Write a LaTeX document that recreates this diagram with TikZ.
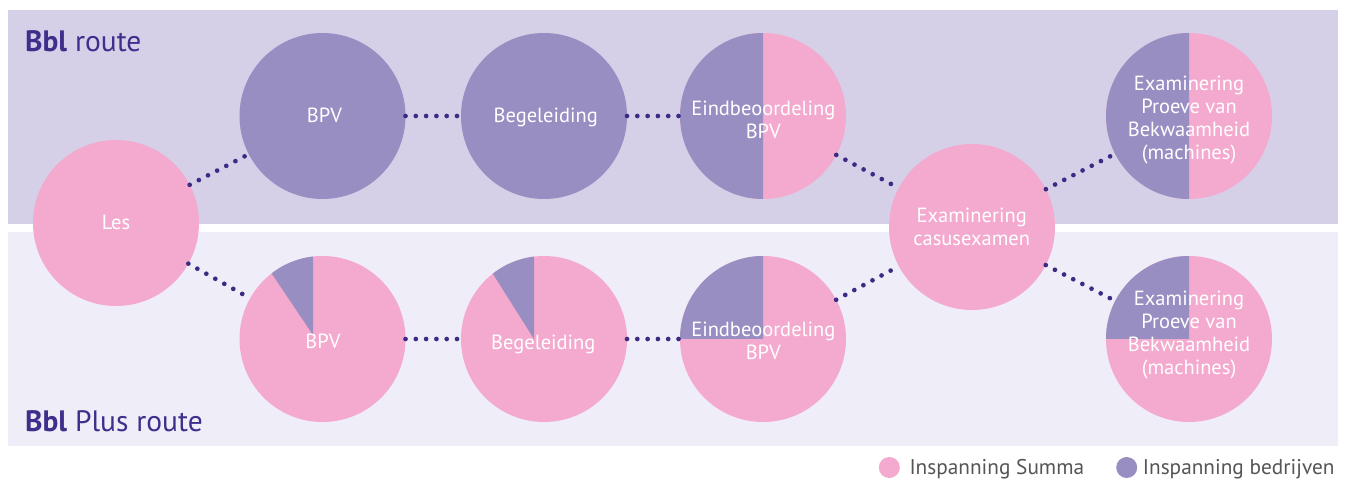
\documentclass[tikz,border=0pt]{standalone}
\usepackage{fontspec}
\setmainfont{PT Sans}
\definecolor{topband}{HTML}{D5D0E8}
\definecolor{botband}{HTML}{EFEDF7}
\definecolor{purp}{HTML}{998EC2}
\definecolor{pinkc}{HTML}{F4AACE}
\definecolor{dotc}{HTML}{3C2B85}
\definecolor{titlec}{HTML}{3F2E8B}
\definecolor{legc}{HTML}{555555}
\begin{document}
\begin{tikzpicture}[x=1pt,y=1pt,
  circ/.style={circle, minimum size=166pt, inner sep=0pt, outer sep=0pt, draw=none},
  dotline/.style={draw=dotc, line width=4.7pt, line cap=round, dash pattern=on 0pt off 10.3pt},
  lbl/.style={text=white, font=\fontsize{20.5}{23}\selectfont, align=center, inner sep=0pt},
  ttl/.style={text=titlec, font=\fontsize{29.5}{34}\selectfont, inner sep=0pt, anchor=base west},
  legtxt/.style={text=legc, font=\fontsize{21.3}{24}\selectfont, inner sep=0pt, anchor=base west}]
\useasboundingbox (0,0) rectangle (1351,482);
% bands
\fill[topband] (8,258) rectangle (1338,472);
\fill[botband] (8,36) rectangle (1338,250);
% circles
\node[circ, fill=pinkc] (les) at (116,259) {};
\node[circ, fill=purp] (bpv1) at (322.5,366) {};
\node[circ, fill=purp] (beg1) at (544,366) {};
\node[circ, fill=pinkc] (eind1) at (763,366) {};
\node[circ, fill=pinkc] (casus) at (972,255) {};
\node[circ, fill=pinkc] (exam1) at (1189,366) {};
\node[circ, fill=pinkc] (bpv2) at (322.5,143) {};
\node[circ, fill=pinkc] (beg2) at (544,143) {};
\node[circ, fill=pinkc] (eind2) at (763,143) {};
\node[circ, fill=pinkc] (exam2) at (1189,143) {};
% purple parts
\fill[purp] (eind1.north) arc[start angle=90, end angle=270, radius=83pt] -- cycle;
\fill[purp] (exam1.north) arc[start angle=90, end angle=270, radius=83pt] -- cycle;
\fill[purp] (eind2.center) -- (eind2.north) arc[start angle=90, end angle=180, radius=83pt] -- cycle;
\fill[purp] (exam2.center) -- (exam2.north) arc[start angle=90, end angle=180, radius=83pt] -- cycle;
\begin{scope}
  \clip (bpv2.center) circle[radius=83pt];
  \fill[purp] (313,147) -- (313,300) -- (190,330) -- cycle;
\end{scope}
\begin{scope}
  \clip (beg2.center) circle[radius=83pt];
  \fill[purp] (534,143) -- (534,300) -- (411,338) -- cycle;
\end{scope}
% connectors
\draw[dotline] (les) -- (bpv1);
\draw[dotline] (les) -- (bpv2);
\draw[dotline] (bpv1) -- (beg1);
\draw[dotline] (beg1) -- (eind1);
\draw[dotline] (bpv2) -- (beg2);
\draw[dotline] (beg2) -- (eind2);
\draw[dotline] (eind1) -- (casus);
\draw[dotline] (eind2) -- (casus);
\draw[dotline] (casus) -- (exam1);
\draw[dotline] (casus) -- (exam2);
% labels
\node[lbl, anchor=base] (les-t) at (116,252) {Les};
\node[lbl, anchor=base] (bpv1-t) at (324.5,359.7) {BPV};
\node[lbl, anchor=base] (beg1-t) at (545.7,359.7) {Begeleiding};
\node[lbl, anchor=base] (bpv2-t) at (323,133.7) {BPV};
\node[lbl, anchor=base] (beg2-t) at (543.3,132.7) {Begeleiding};
\node[lbl] (eind1-t) at (763.3,361.9) {Eindbeoordeling\\BPV};
\node[lbl] (eind2-t) at (763.3,141.4) {Eindbeoordeling\\BPV};
\node[lbl] (casus-t) at (971.7,255.2) {Examinering\\casusexamen};
\node[lbl] (exam1-t) at (1189,362.2) {Examinering\\Proeve van\\Bekwaamheid\\(machines)};
\node[lbl] (exam2-t) at (1189,146.9) {Examinering\\Proeve van\\Bekwaamheid\\(machines)};
% titles
\node[ttl] (title1) at (25,430.3) {\textbf{Bbl} route};
\node[ttl] (title2) at (25,50.3) {\textbf{Bbl} Plus route};
% legend
\node[circle, fill=pinkc, minimum size=21pt, inner sep=0pt] (leg1) at (889.3,14.5) {};
\node[legtxt] (leg1-t) at (909.3,7.7) {Inspanning Summa};
\node[circle, fill=purp, minimum size=21pt, inner sep=0pt] (leg2) at (1126.7,14.5) {};
\node[legtxt] (leg2-t) at (1142.7,7.7) {Inspanning bedrijven};
\end{tikzpicture}
\end{document}
